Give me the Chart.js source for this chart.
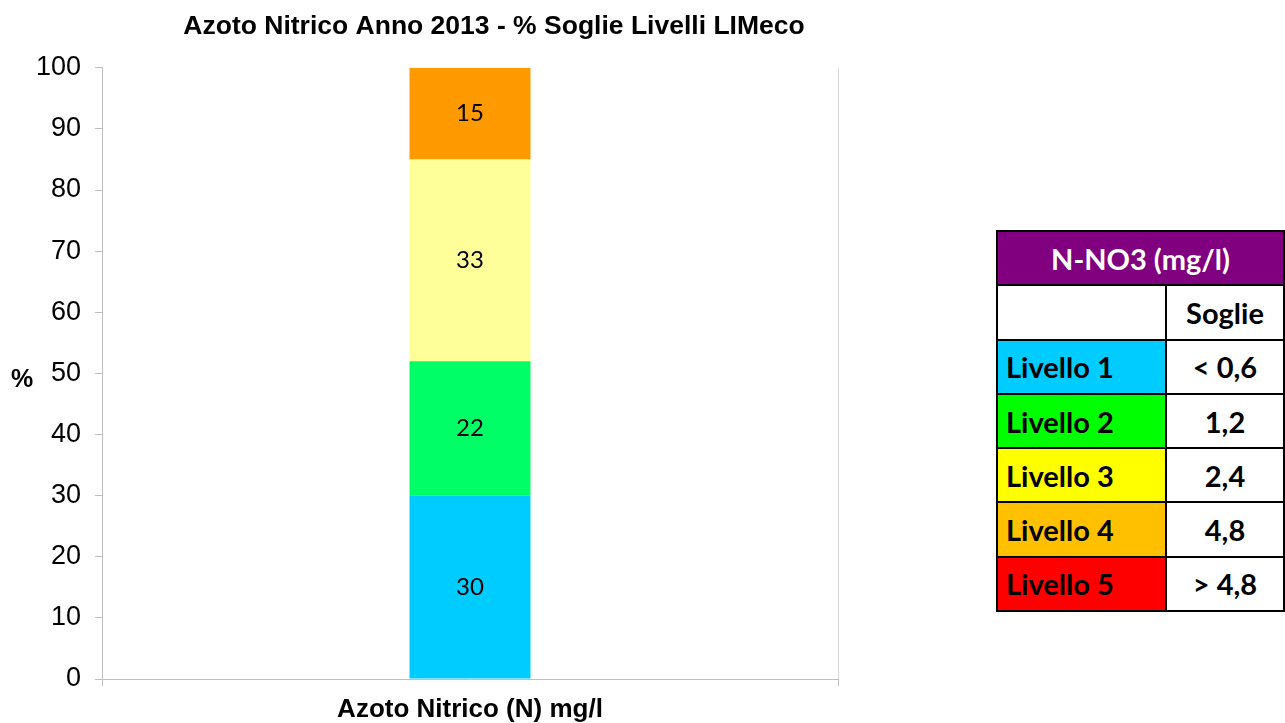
<!DOCTYPE html>
<html>
<head>
<meta charset="utf-8">
<script src="https://cdn.jsdelivr.net/npm/chart.js@4"></script>
<style>
  body { margin: 0; background: #fff; }
  #wrap { position: absolute; left: 0; top: 0; width: 988px; height: 723px; }
  #soglie {
    position: absolute; left: 996px; top: 230px; width: 289px;
    border-collapse: collapse; font-family: Lato, "Open Sans", sans-serif;
    font-weight: bold; font-size: 29px; color: #000;
  }
  #soglie td { border: 2px solid #000; height: 52.3px; padding: 0; }
  #soglie td.liv { text-align: left; padding-left: 8px; width: 159px; }
  #soglie td.val { text-align: center; background: #fff; }
  #soglie td.head { background: #800080; color: #fff; text-align: center; }
</style>
</head>
<body>
<div id="wrap"><canvas id="chart"></canvas></div>
<table id="soglie"></table>
<script>
// categories and series
const categories = ['Azoto Nitrico (N) mg/l'];
const seriesNames = ['Livello 1', 'Livello 2', 'Livello 3', 'Livello 4'];
const seriesValues = [[30], [22], [33], [15]];
const seriesColors = ['#00CCFF', '#00FF66', '#FFFF99', '#FF9900'];
const yTicks = [0, 10, 20, 30, 40, 50, 60, 70, 80, 90, 100];

// threshold table
const tableLevels = ['Livello 1', 'Livello 2', 'Livello 3', 'Livello 4', 'Livello 5'];
const tableValues = ['< 0,6', '1,2', '2,4', '4,8', '> 4,8'];
const tableColors = ['#00CCFF', '#00FF00', '#FFFF00', '#FFC000', '#FF0000'];

// build the table
const table = document.getElementById('soglie');
let html = '<tr><td class="head" colspan="2">N-NO3 (mg/l)</td></tr>';
html += '<tr><td class="liv" style="background:#fff"></td><td class="val">Soglie</td></tr>';
tableLevels.forEach((lv, i) => {
  html += `<tr><td class="liv" style="background:${tableColors[i]}">${lv}</td><td class="val">${tableValues[i]}</td></tr>`;
});
table.innerHTML = html;

// value labels inside the bars + the "%" axis label
const barLabels = {
  id: 'barLabels',
  afterDatasetsDraw(chart) {
    const ctx = chart.ctx;
    ctx.save();
    ctx.font = '24px Lato, "Open Sans", sans-serif';
    ctx.fillStyle = '#000';
    ctx.textAlign = 'center';
    ctx.textBaseline = 'middle';
    chart.data.datasets.forEach((ds, i) => {
      chart.getDatasetMeta(i).data.forEach((bar, j) => {
        const mid = (bar.y + bar.base) / 2;
        ctx.fillText(String(ds.data[j]), bar.x, mid);
      });
    });
    const y = chart.scales.y;
    ctx.font = 'bold 25px "Liberation Sans", Arial, sans-serif';
    ctx.fillText('%', 22, (y.top + y.bottom) / 2 + 7);
    ctx.restore();
  }
};

const datasets = seriesNames.map((name, i) => ({
  label: name,
  data: seriesValues[i],
  backgroundColor: seriesColors[i],
  borderWidth: 0,
  categoryPercentage: 1,
  barPercentage: 0.1644
}));

new Chart(document.getElementById('chart'), {
  type: 'bar',
  data: { labels: categories, datasets: datasets },
  plugins: [barLabels],
  options: {
    responsive: true,
    maintainAspectRatio: false,
    animation: false,
    layout: { padding: 0 },
    plugins: {
      legend: { display: false },
      tooltip: { enabled: false },
      title: {
        display: true,
        text: 'Azoto Nitrico Anno 2013 - % Soglie Livelli LIMeco',
        color: '#000',
        font: { family: '"Liberation Sans", Arial, sans-serif', size: 26.5, weight: 'bold', lineHeight: 1.2 },
        padding: { top: 11, bottom: 25 }
      }
    },
    scales: {
      x: {
        stacked: true,
        offset: true,
        afterFit(scale) { scale.height = 44; },
        border: { color: '#bfbfbf', width: 1 },
        grid: {
          offset: true,
          drawOnChartArea: true,
          color: '#d9d9d9',
          tickColor: '#bfbfbf',
          tickLength: 7
        },
        ticks: {
          color: '#000',
          padding: 11,
          font: { family: '"Liberation Sans", Arial, sans-serif', size: 26, weight: 'bold', lineHeight: 1.0 }
        }
      },
      y: {
        stacked: true,
        min: 0,
        max: 100,
        afterBuildTicks(scale) { scale.ticks = yTicks.map(v => ({ value: v })); },
        afterFit(scale) { scale.width = 102; },
        border: { color: '#bfbfbf', width: 1 },
        grid: {
          drawOnChartArea: false,
          tickColor: '#bfbfbf',
          tickLength: 7
        },
        ticks: {
          color: '#000',
          padding: 14,
          font: { family: '"Liberation Sans", Arial, sans-serif', size: 27 }
        }
      },
      // empty right-hand spacer so the plot ends where the reference does
      spacer: {
        type: 'linear',
        position: 'right',
        afterFit(scale) { scale.width = 150; },
        border: { display: false },
        grid: { display: false },
        ticks: { display: false }
      }
    }
  }
});
</script>
</body>
</html>
